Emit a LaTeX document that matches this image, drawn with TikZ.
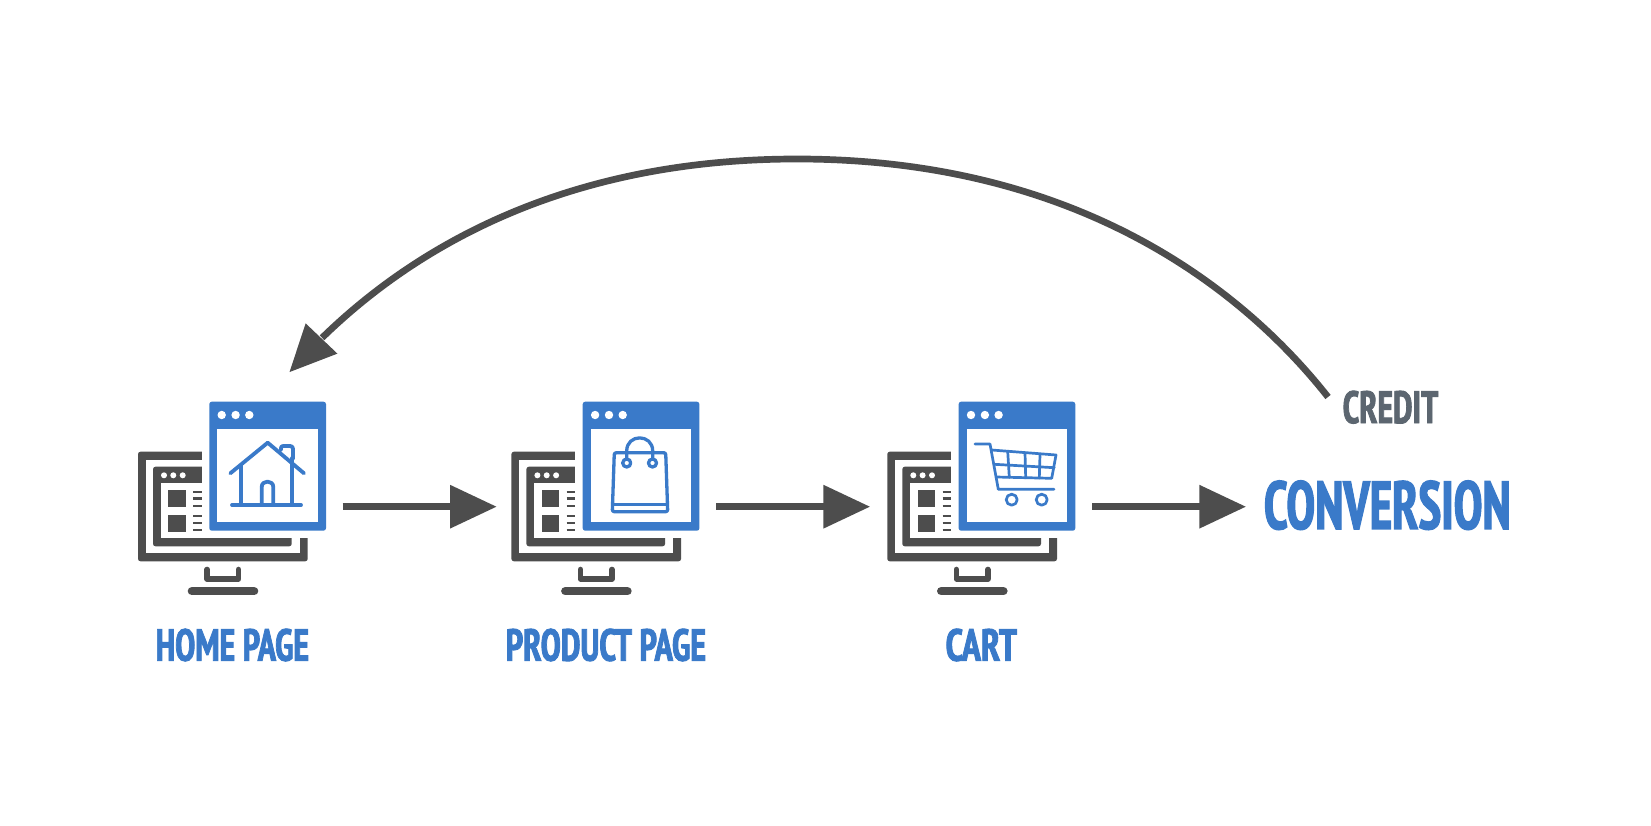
\documentclass[tikz,border=0pt]{standalone}
\usepackage{fontspec}
\usepackage{graphicx}
\usetikzlibrary{arrows.meta,bending}
\newfontfamily\bebas[FakeBold=2]{PT Sans Narrow Bold}
\definecolor{icongray}{HTML}{4D4D4D}
\definecolor{iconblue}{HTML}{3A7AC9}
\definecolor{creditgray}{HTML}{5C6670}
\newcommand{\bbtext}[3]{\resizebox{#1pt}{#2pt}{\bebas #3}}
\newcommand{\screen}[1]{%
\begin{scope}[xshift=#1pt]
  % monitor
  \fill[icongray,rounded corners=2.5pt] (138,451.7) rectangle (307.7,561.3);
  \fill[white] (146,459.7) rectangle (300,553.3);
  % small window
  \fill[icongray,rounded corners=2.5pt] (153,466.7) rectangle (291.7,546.3);
  \fill[white] (161,483.3) rectangle (285,538.3);
  \foreach \dx in {164,173.3,182.7} \fill[white] (\dx,475.3) circle (3);
  \fill[icongray] (168.3,490) rectangle (185.6,507.3);
  \fill[icongray] (168.3,514.7) rectangle (185.6,531.7);
  \foreach \ly in {491.7,498.6,505.7,516,523,530}
    \draw[icongray,line width=2.4pt] (193.3,\ly) -- (205,\ly);
  % knock-out round the blue window
  \fill[white] (201.7,395) rectangle (334,538.3);
  % stand
  \draw[icongray,line width=5.6pt,line cap=round,line join=round]
     (207.1,569.5) -- (207.1,578.9) -- (238.5,578.9) -- (238.5,569.5);
  \draw[icongray,line width=8.4pt,line cap=round] (191.9,591.2) -- (254.1,591.2);
  % blue window
  \fill[iconblue,rounded corners=2.5pt] (209.3,401.7) rectangle (326,530.7);
  \fill[white] (217.3,428.7) rectangle (318,522.3);
  \foreach \dx in {221.7,235.6,249.3} \fill[white] (\dx,415) circle (4.2);
\end{scope}}
\tikzset{
  flow/.style={icongray,line width=6.5pt,-{Triangle[length=46.7pt,width=42pt]}},
  bentflow/.style={icongray,line width=6.7pt,-{Triangle[length=46.7pt,width=42pt,flex]}},
  glyph/.style={iconblue,line width=3.3pt,line cap=round,line join=round},
  houseglyph/.style={iconblue,line width=3.8pt,line cap=round,line join=round},
  cartglyph/.style={iconblue,line width=2.7pt,line cap=round,line join=round},
  title/.style={inner sep=0pt,text=iconblue,anchor=center}
}
\begin{document}
\begin{tikzpicture}[x=1pt,y=-1pt]
\useasboundingbox (0,0) rectangle (1651,826);
\fill[white] (0,0) rectangle (1651,826);
\screen{0}
\screen{373.4}
\screen{749.3}
% house
\draw[houseglyph] (230.3,473.3) -- (267.7,442.7) -- (304,473.3);
\draw[houseglyph] (241,465) -- (241,505);
\draw[houseglyph] (292.3,458) -- (292.3,505);
\draw[houseglyph] (232,505) -- (301,505);
\draw[houseglyph] (281,450) -- (281,448) .. controls (281,446.5) and (282,446) .. (283.5,446) -- (290,446) .. controls (292,446) and (293,447) .. (293,449) -- (293,459);
\draw[houseglyph] (261.7,505) -- (261.7,487) .. controls (261.7,479.8) and (273.3,479.8) .. (273.3,487) -- (273.3,505);
% bag
\draw[glyph,rounded corners=2pt] (614.3,452.7) -- (665.7,452.7) -- (667.7,511.7) -- (612.3,511.7) -- cycle;
\draw[glyph] (613,504.3) -- (667,504.3);
\draw[glyph] (626.7,459) -- (626.7,451) .. controls (626.7,433.5) and (652.7,433.5) .. (652.7,451) -- (652.7,459);
\fill[white] (626.7,463) circle (4);
\fill[white] (652.5,463) circle (4);
\draw[glyph] (626.7,463) circle (4);
\draw[glyph] (652.5,463) circle (4);
% cart
\draw[cartglyph] (975,444) -- (990,444) -- (998.3,489.3) -- (1054,489.3);
\draw[cartglyph] (991.7,450) -- (1056,455) -- (1051.7,478.3) -- (996,477);
\draw[cartglyph] (994.3,464.3) -- (1054.3,467.7);
\draw[cartglyph] (1007.7,451.3) -- (1009.3,477.3);
\draw[cartglyph] (1025,453) -- (1025.7,477.7);
\draw[cartglyph] (1040,454.3) -- (1039.3,478);
\draw[cartglyph] (1011.7,499.7) circle (5.5);
\draw[cartglyph] (1041.7,499.7) circle (5.5);
% labels
\node[title] (home) at (232.4,645) {\bbtext{153.3}{32}{HOME PAGE}};
\node[title] (product) at (605.9,645) {\bbtext{200.3}{32}{PRODUCT PAGE}};
\node[title] (cart) at (981.3,645) {\bbtext{71.4}{32}{CART}};
\node[title] (conversion) at (1387.3,505.2) {\bbtext{246.7}{48.3}{CONVERSION}};
\node[title,text=creditgray] (credit) at (1390.5,407.2) {\bbtext{95.6}{32.3}{CREDIT}};
% connectors
\coordinate (s1) at (342.7,506.7);
\coordinate (t1) at (496.7,506.7);
\coordinate (s2) at (716.1,506.7);
\coordinate (t2) at (870.1,506.7);
\coordinate (s3) at (1092,506.7);
\coordinate (t3) at (1246,506.7);
\coordinate (creditstart) at (1328,397);
\coordinate (apex) at (797,159);
\coordinate (hometip) at (289.3,372.3);
\draw[flow] (s1) -- (t1);
\draw[flow] (s2) -- (t2);
\draw[flow] (s3) -- (t3);
\draw[bentflow] (creditstart) .. controls (1235,279.2) and (1067,159) .. (apex)
  .. controls (527,159) and (371.8,278.5) .. (hometip);
\end{tikzpicture}
\end{document}
